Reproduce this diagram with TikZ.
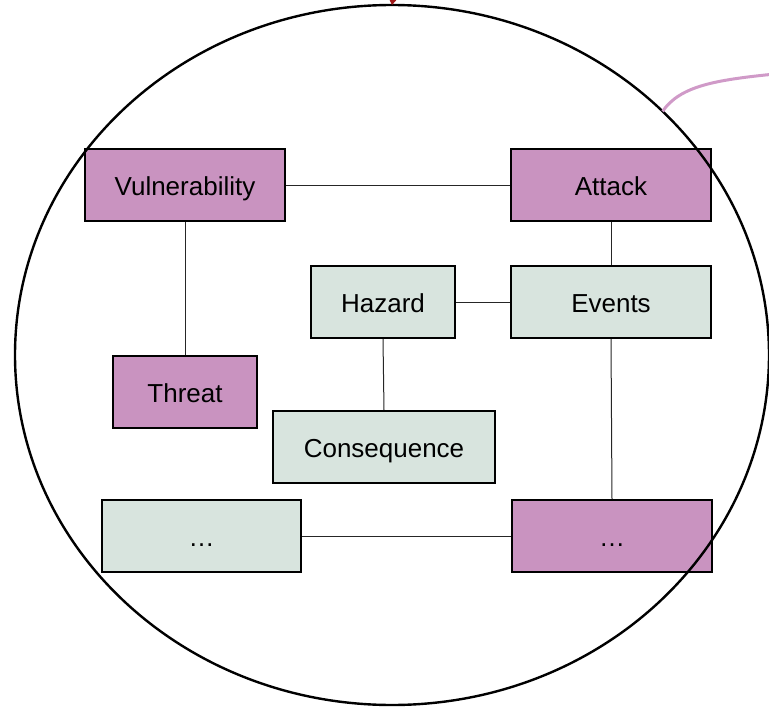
\documentclass[tikz,border=0pt]{standalone}
\usepackage{fontspec}
\setmainfont{Liberation Sans}
\usetikzlibrary{shapes.geometric,arrows.meta}
\definecolor{pinkfill}{HTML}{C993C0}
\definecolor{greenfill}{HTML}{D8E4DE}
\definecolor{arrowred}{HTML}{A01818}
\definecolor{curvepink}{HTML}{D09AC8}
\tikzset{
  box/.style={draw=black, line width=2pt, minimum height=72pt, inner sep=0pt,
    text height=21pt, text depth=1pt,
    font=\fontsize{26}{30}\selectfont},
  pinkbox/.style={box, fill=pinkfill},
  greenbox/.style={box, fill=greenfill},
  link/.style={draw=black!85, line width=1pt},
}
\begin{document}
\begin{tikzpicture}[x=1pt,y=-1pt]
\useasboundingbox (0,0) rectangle (769,707);
% boxes
\node[pinkbox, minimum width=200pt] (vul) at (185,185) {Vulnerability};
\node[pinkbox, minimum width=200pt] (att) at (611,185) {Attack};
\node[pinkbox, minimum width=144pt] (thr) at (185,392) {Threat};
\node[greenbox, minimum width=144pt] (haz) at (383,302) {Hazard};
\node[greenbox, minimum width=200pt] (evt) at (611,302) {Events};
\node[greenbox, minimum width=222pt] (con) at (384,447) {Consequence};
\node[greenbox, minimum width=199pt] (dl) at (201.5,536) {\ldots};
\node[pinkbox, minimum width=200pt] (dr) at (612,536) {\ldots};
% connectors
\draw[link] (vul.east) -- (att.west);
\draw[link] (vul.south) -- (thr.north);
\draw[link] (att.south) -- (evt.north);
\draw[link] (haz.east) -- (evt.west);
\draw[link] (haz.south) -- (con.north);
\draw[link] (evt.south) -- (dr.north);
\draw[link] (dl.east) -- (dr.west);
% big ellipse
\node[draw=black, line width=2.4pt, ellipse, minimum width=754pt, minimum height=700pt,
  inner sep=0pt, outer sep=0pt] (ell) at (392,355) {};
% top arrow
\coordinate (above) at (397,-30);
\draw[arrowred, line width=1pt, -{Triangle[length=7pt,width=9pt]}] (above) -- (ell.north);
% pink curve
\coordinate (curveend) at (775,74);
\draw[curvepink, line width=3pt] (ell.42) .. controls (680,86) and (715,80) .. (curveend);
\end{tikzpicture}
\end{document}
